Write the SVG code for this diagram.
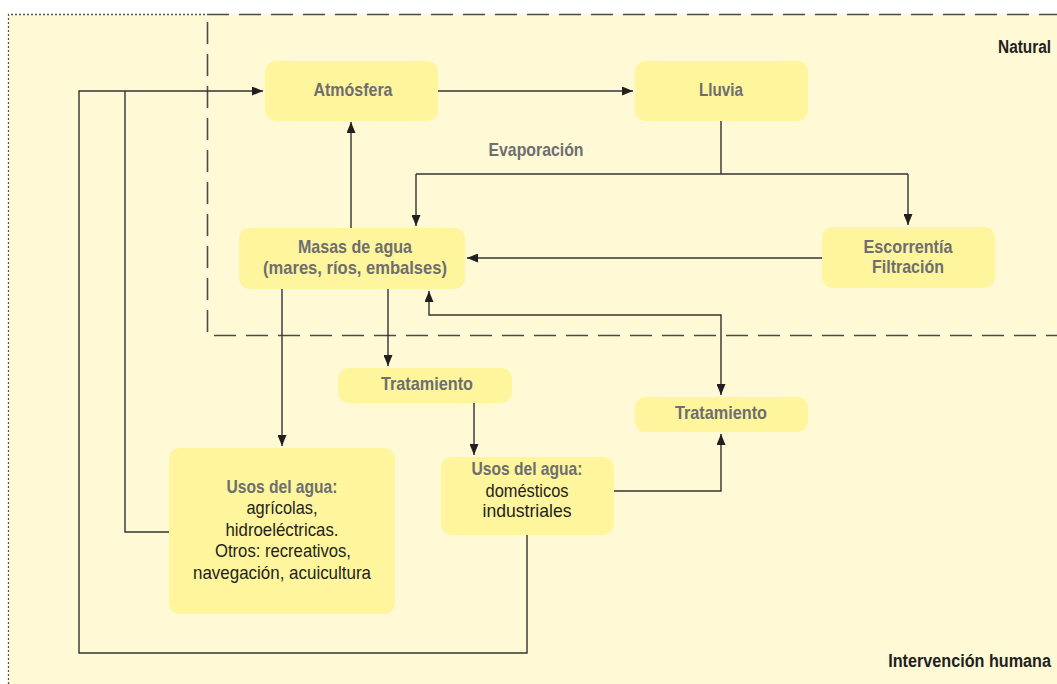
<svg xmlns="http://www.w3.org/2000/svg" width="1057" height="684" viewBox="0 0 1057 684">
<style>
.bg{fill:#FFF9D6}
.node{fill:#FFF59C}
.t{font-family:"Liberation Sans",Arial,sans-serif;font-size:19px;text-anchor:middle}
.g{fill:#6D6E71;font-weight:bold}
.d{fill:#231F20}
.lb{fill:#231F20;font-weight:bold;text-anchor:end}
.c{fill:none;stroke:#333;stroke-width:1.4}
.dash{fill:none;stroke:#4a4a4a;stroke-width:1.6;stroke-dasharray:22 10}
.dot{fill:none;stroke:#555;stroke-width:1.3;stroke-dasharray:2 2}
</style>
<defs>
<marker id="ah" viewBox="0 0 11 9" refX="11" refY="4.5" markerWidth="11" markerHeight="9" markerUnits="userSpaceOnUse" orient="auto-start-reverse">
<path d="M0,0 L11,4.5 L0,9 Z" fill="#231F20"/>
</marker>
</defs>
<rect class="bg" x="8" y="14" width="1049" height="670"/>
<path class="dot" d="M8.5,684 V14.5 H207"/>
<path class="dash" d="M207.5,22 V335.5 H1057"/>
<path class="dash" d="M207,14.5 H1057"/>
<text class="t lb" x="0" y="0" transform="translate(1051,53) scale(0.81,1)">Natural</text>
<text class="t lb" x="0" y="0" transform="translate(1051,667) scale(0.853,1)">Intervención humana</text>
<g id="connectors">
<path class="c" d="M438,91 H633" marker-end="url(#ah)"/>
<path class="c" d="M721,121 V174"/>
<path class="c" d="M416,174 H908"/>
<path class="c" d="M416,174 V226" marker-end="url(#ah)"/>
<path class="c" d="M908,174 V225" marker-end="url(#ah)"/>
<path class="c" d="M822,258 H467" marker-end="url(#ah)"/>
<path class="c" d="M351,228 V122" marker-end="url(#ah)"/>
<path class="c" d="M282,289 V446" marker-end="url(#ah)"/>
<path class="c" d="M388,289 V366" marker-end="url(#ah)"/>
<path class="c" d="M474,403 V455" marker-end="url(#ah)"/>
<path class="c" d="M614,491 H721 V434" marker-end="url(#ah)"/>
<path class="c" d="M429,291 V315 H721 V395" marker-start="url(#ah)" marker-end="url(#ah)"/>
<path class="c" d="M169,532 H125 V91"/>
<path class="c" d="M527,535 V653 H79 V91 H263" marker-end="url(#ah)"/>
<text class="t g" x="536" y="156" textLength="95" lengthAdjust="spacingAndGlyphs">Evaporación</text>
</g>
<g id="atmosfera">
<rect class="node" x="265" y="61" width="173" height="60" rx="11"/>
<text class="t g" x="353" y="96" textLength="79" lengthAdjust="spacingAndGlyphs">Atmósfera</text>
</g>
<g id="lluvia">
<rect class="node" x="635" y="61" width="173" height="60" rx="11"/>
<text class="t g" x="721" y="96" textLength="44" lengthAdjust="spacingAndGlyphs">Lluvia</text>
</g>
<g id="masas">
<rect class="node" x="239" y="228" width="226" height="61" rx="11"/>
<text class="t g" x="355" y="253" textLength="114" lengthAdjust="spacingAndGlyphs">Masas de agua</text>
<text class="t g" x="355" y="274" textLength="184" lengthAdjust="spacingAndGlyphs">(mares, ríos, embalses)</text>
</g>
<g id="escorrentia">
<rect class="node" x="822" y="227" width="173" height="61" rx="11"/>
<text class="t g" x="908" y="253" textLength="89" lengthAdjust="spacingAndGlyphs">Escorrentía</text>
<text class="t g" x="908" y="273" textLength="72" lengthAdjust="spacingAndGlyphs">Filtración</text>
</g>
<g id="tratamiento1">
<rect class="node" x="338" y="368" width="174" height="35" rx="11"/>
<text class="t g" x="427" y="390" textLength="92" lengthAdjust="spacingAndGlyphs">Tratamiento</text>
</g>
<g id="tratamiento2">
<rect class="node" x="635" y="397" width="173" height="35" rx="11"/>
<text class="t g" x="721" y="419" textLength="92" lengthAdjust="spacingAndGlyphs">Tratamiento</text>
</g>
<g id="usos1">
<rect class="node" x="169" y="448" width="226" height="166" rx="11"/>
<text class="t g" x="282" y="493" textLength="111" lengthAdjust="spacingAndGlyphs">Usos del agua:</text>
<text class="t d" x="282" y="514" textLength="71" lengthAdjust="spacingAndGlyphs">agrícolas,</text>
<text class="t d" x="282" y="536" textLength="113" lengthAdjust="spacingAndGlyphs">hidroeléctricas.</text>
<text class="t d" x="283" y="557" textLength="136" lengthAdjust="spacingAndGlyphs">Otros: recreativos,</text>
<text class="t d" x="282" y="579" textLength="178" lengthAdjust="spacingAndGlyphs">navegación, acuicultura</text>
</g>
<g id="usos2">
<rect class="node" x="441" y="457" width="173" height="78" rx="11"/>
<text class="t g" x="527" y="475" textLength="111" lengthAdjust="spacingAndGlyphs">Usos del agua:</text>
<text class="t d" x="527" y="497" textLength="83" lengthAdjust="spacingAndGlyphs">domésticos</text>
<text class="t d" x="527" y="517" textLength="89" lengthAdjust="spacingAndGlyphs">industriales</text>
</g>
</svg>
